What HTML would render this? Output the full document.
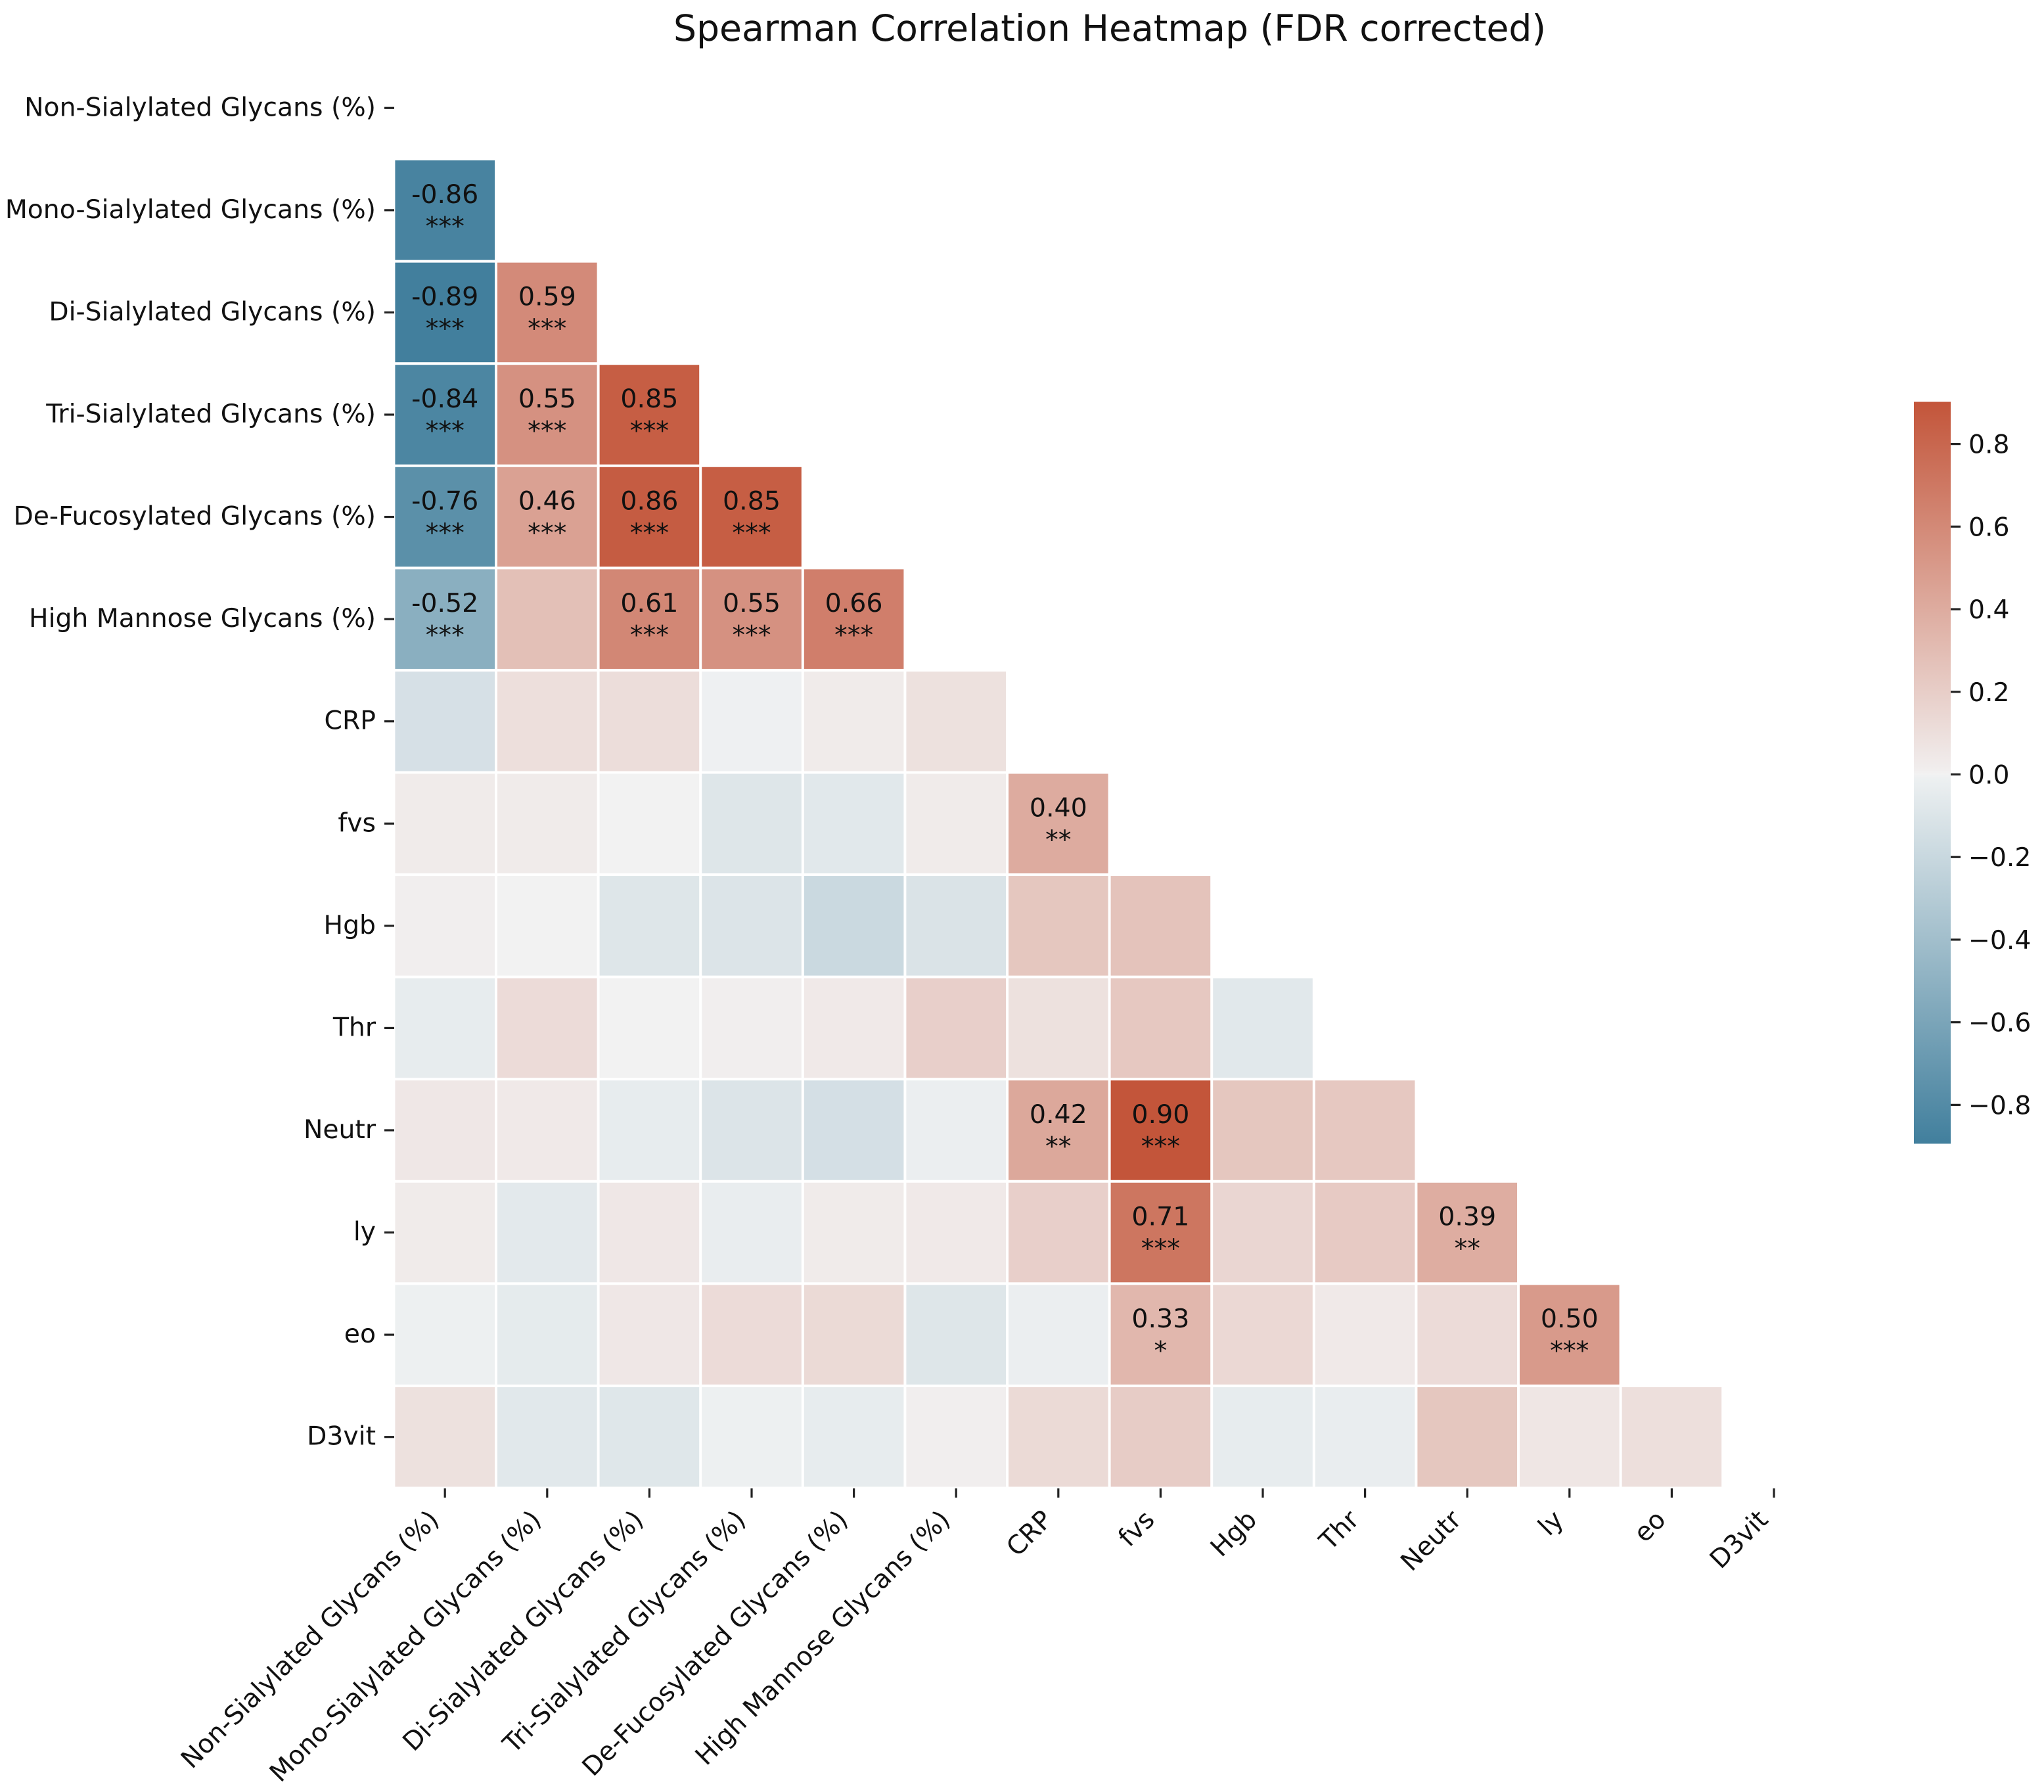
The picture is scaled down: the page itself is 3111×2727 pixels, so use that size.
<!DOCTYPE html>
<html lang="en">
<head>
<meta charset="utf-8">
<title>Spearman Correlation Heatmap (FDR corrected)</title>
<style>
html,body{margin:0;padding:0;background:#fff;}
svg{display:block;}
text{font-family:"DejaVu Sans","Liberation Sans",sans-serif;fill:#111;}
</style>
</head>
<body>
<svg id="chart" xmlns="http://www.w3.org/2000/svg" width="3111" height="2727" viewBox="0 0 3111 2727">
  <rect x="0" y="0" width="3111" height="2727" fill="#ffffff"></rect>
  <text x="1689" y="62" text-anchor="middle" font-size="55.2">Spearman Correlation Heatmap (FDR corrected)</text>
  <defs><linearGradient id="cbar-gradient" x1="0" y1="0" x2="0" y2="1"></linearGradient></defs>
  <g id="cells"></g>
  <g id="annotations"></g>
  <g id="y-axis"></g>
  <g id="x-axis"></g>
  <g id="colorbar"></g>
</svg>
<script>
var categories = ["Non-Sialylated Glycans (%)","Mono-Sialylated Glycans (%)","Di-Sialylated Glycans (%)","Tri-Sialylated Glycans (%)","De-Fucosylated Glycans (%)","High Mannose Glycans (%)","CRP","fvs","Hgb","Thr","Neutr","ly","eo","D3vit"];
var correlations = [
  [],
  [-0.86],
  [-0.89,0.59],
  [-0.84,0.55,0.85],
  [-0.76,0.46,0.86,0.85],
  [-0.52,0.28,0.61,0.55,0.66],
  [-0.13,0.10,0.11,-0.005,0.03,0.09],
  [0.03,0.03,0,-0.09,-0.07,0.03,0.40],
  [0.01,0,-0.09,-0.10,-0.19,-0.11,0.24,0.26],
  [-0.04,0.12,0,0.01,0.04,0.19,0.09,0.23,-0.07],
  [0.05,0.04,-0.04,-0.10,-0.14,-0.02,0.42,0.90,0.24,0.23],
  [0.03,-0.06,0.05,-0.03,0.03,0.04,0.19,0.71,0.15,0.22,0.39],
  [-0.01,-0.05,0.05,0.12,0.13,-0.09,-0.02,0.33,0.14,0.04,0.12,0.50],
  [0.09,-0.07,-0.08,-0.01,-0.04,0.01,0.13,0.21,-0.04,-0.03,0.24,0.06,0.10]
];
var significance = [
  [],
  ["***"],
  ["***","***"],
  ["***","***","***"],
  ["***","***","***","***"],
  ["***","","***","***","***"],
  ["","","","","",""],
  ["","","","","","","**"],
  ["","","","","","","",""],
  ["","","","","","","","",""],
  ["","","","","","","**","***","",""],
  ["","","","","","","","***","","","**"],
  ["","","","","","","","*","","","","***"],
  ["","","","","","","","","","","","",""]
];
var colorbarTicks = [0.8,0.6,0.4,0.2,0,-0.2,-0.4,-0.6,-0.8];
var colorbarDomain = [0.902,-0.894];

var NS = "http://www.w3.org/2000/svg";
var plotLeft = 599.4, plotTop = 86.5, cellW = 155.6, cellH = 155.57, gap = 4;
function xPos(j){ return plotLeft + j * cellW; }
function yPos(i){ return plotTop + i * cellH; }
function cbY(v){ return 1178.5 - v * 628.6; }

var negEnd = [64,126,156], negMid = [239,241,242], mid = [242,242,242], posMid = [242,240,240], posEnd = [195,85,58];
function mix(a,b,t){ return [0,1,2].map(function(k){ return Math.round(a[k] + (b[k]-a[k])*t); }); }
function colorFor(v){
  var t = Math.min(Math.abs(v)/0.9, 1), c;
  if (t < 0.004) c = mid;
  else c = v < 0 ? mix(negMid,negEnd,t) : mix(posMid,posEnd,t);
  return "rgb(" + c.join(",") + ")";
}
function make(tag, parent, attrs){
  var el = document.createElementNS(NS, tag);
  for (var k in attrs) el.setAttribute(k, attrs[k]);
  parent.appendChild(el);
  return el;
}
function slug(s){ return s.toLowerCase().replace(/[^a-z0-9]+/g,"-").replace(/^-|-$/g,""); }

var cellsG = document.getElementById("cells");
var annG = document.getElementById("annotations");
var yG = document.getElementById("y-axis");
var xG = document.getElementById("x-axis");
var cbG = document.getElementById("colorbar");

correlations.forEach(function(row,i){
  row.forEach(function(v,j){
    var r = make("rect", cellsG, {x:xPos(j)+gap/2, y:yPos(i)+gap/2, width:cellW-gap, height:cellH-gap, fill:colorFor(v)});
    
    
    var stars = significance[i][j];
    if (stars) {
      var cx = xPos(j) + cellW/2, cy = yPos(i) + cellH/2;
      var t = make("text", annG, {x:cx, y:cy-11, "text-anchor":"middle", "font-size":"39.5"});
      t.textContent = v.toFixed(2);
      
      
      var s = make("text", annG, {x:cx, y:cy+37.5, "text-anchor":"middle", "font-size":"39.5"});
      s.textContent = stars;
      
      
    }
  });
});

categories.forEach(function(label,i){
  var cy = yPos(i) + cellH/2;
  var tick = make("rect", yG, {x:585, y:cy-1.6, width:15, height:3.2, fill:"#222"});
  
  
  var t = make("text", yG, {x:572, y:cy+12, "text-anchor":"end", "font-size":"39.3"});
  t.textContent = label;
  
  

  var cx = xPos(i) + cellW/2;
  var xt = make("rect", xG, {x:cx-1.6, y:2265, width:3.2, height:14, fill:"#222"});
  
  
  var px = cx - 7, py = 2315;
  var xl = make("text", xG, {x:px, y:py, "text-anchor":"end", "font-size":"39.3", transform:"rotate(-45 " + px + " " + py + ")"});
  xl.textContent = label;
  
  
});

var grad = document.getElementById("cbar-gradient");
var gradSteps = [colorbarDomain[0],0.45,0.01,0,-0.01,-0.45,colorbarDomain[1]];
gradSteps.forEach(function(v){
  var off = (v - colorbarDomain[0]) / (colorbarDomain[1] - colorbarDomain[0]);
  var st = make("stop", grad, {offset:off, "stop-color":colorFor(v)});
  
  
});
var bar = make("rect", cbG, {x:2913, y:cbY(colorbarDomain[0]), width:56, height:cbY(colorbarDomain[1])-cbY(colorbarDomain[0]), fill:"url(#cbar-gradient)"});


colorbarTicks.forEach(function(v){
  var y = cbY(v);
  var tk = make("rect", cbG, {x:2969, y:y-1.6, width:15, height:3.2, fill:"#222"});
  
  
  var t = make("text", cbG, {x:2996, y:y+14, "font-size":"39.3"});
  t.textContent = (v < 0 ? "\u2212" : "") + Math.abs(v).toFixed(1);
  
  
});
</script>
</body>
</html>
